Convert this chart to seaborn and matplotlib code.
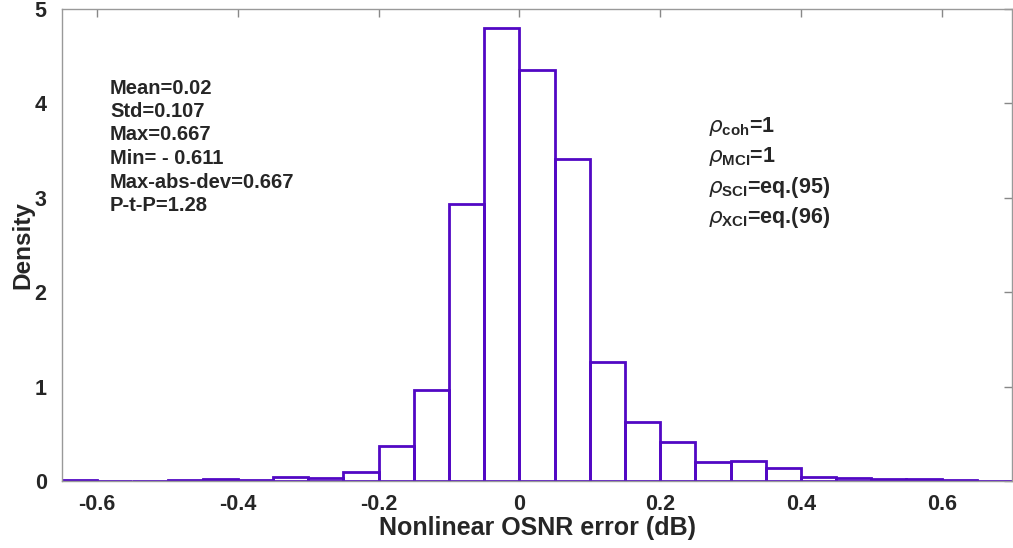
import matplotlib
matplotlib.use("Agg")
import matplotlib.pyplot as plt
import seaborn as sns
import pandas as pd

# bin edges (dB) and density per bin
BIN_LEFT = [-0.65, -0.60, -0.55, -0.50, -0.45, -0.40, -0.35, -0.30, -0.25,
            -0.20, -0.15, -0.10, -0.05, 0.00, 0.05, 0.10, 0.15, 0.20, 0.25,
            0.30, 0.35, 0.40, 0.45, 0.50, 0.55, 0.60, 0.65]
DENSITY = [0.01, 0.003, 0.003, 0.01, 0.02, 0.006, 0.045, 0.03, 0.10,
           0.37, 0.96, 2.93, 4.80, 4.35, 3.41, 1.26, 0.62, 0.41, 0.20,
           0.21, 0.14, 0.045, 0.03, 0.02, 0.02, 0.015, 0.005]
BIN_WIDTH = 0.05

STATS_LINES = ["Mean=0.02", "Std=0.107", "Max=0.667", "Min= - 0.611",
               "Max-abs-dev=0.667", "P-t-P=1.28"]
RHO_LINES = [r"$\rho_{\mathbf{coh}}$=1", r"$\rho_{\mathbf{MCI}}$=1",
             r"$\rho_{\mathbf{SCI}}$=eq.(95)", r"$\rho_{\mathbf{XCI}}$=eq.(96)"]

LINE_COLOR = "#5208c4"


def main() -> None:
    sns.set_theme(style="white")
    plt.rcParams["font.family"] = ["Liberation Sans", "DejaVu Sans"]
    plt.rcParams["font.weight"] = "bold"
    plt.rcParams["mathtext.fontset"] = "custom"
    plt.rcParams["mathtext.rm"] = "Liberation Sans"
    plt.rcParams["mathtext.it"] = "DejaVu Sans:italic:normal"
    plt.rcParams["mathtext.bf"] = "Liberation Sans:bold"

    df = pd.DataFrame({"x": [b + BIN_WIDTH / 2 for b in BIN_LEFT], "w": DENSITY})
    edges = BIN_LEFT + [BIN_LEFT[-1] + BIN_WIDTH]

    fig = plt.figure(figsize=(10.13, 5.48), dpi=100)
    ax = fig.add_axes([62 / 1013, 67 / 548, 950 / 1013, 472 / 548])
    sns.histplot(data=df, x="x", weights="w", bins=edges, stat="count",
                 fill=False, color=LINE_COLOR, linewidth=2.0, ax=ax)

    ax.set_xlim(-0.65, 0.7)
    ax.set_ylim(0, 5)
    ax.set_xticks([-0.6, -0.4, -0.2, 0, 0.2, 0.4, 0.6])
    ax.set_xticklabels(["-0.6", "-0.4", "-0.2", "0", "0.2", "0.4", "0.6"])
    ax.set_yticks([0, 1, 2, 3, 4, 5])
    ax.tick_params(axis="both", direction="in", length=6, width=1,
                   color="#888888", labelsize=15.5, top=True, right=True)
    ax.tick_params(axis="x", pad=9)
    ax.tick_params(axis="y", pad=11)
    for lbl in ax.get_xticklabels() + ax.get_yticklabels():
        lbl.set_fontweight("bold")
    for sp in ax.spines.values():
        sp.set_color("#999999")
        sp.set_linewidth(1)
    ax.set_xlabel("Nonlinear OSNR error (dB)", fontsize=18, fontweight="bold", labelpad=1)
    ax.set_ylabel("Density", fontsize=17.5, fontweight="bold", labelpad=0)

    for i, line in enumerate(STATS_LINES):
        ax.text(110, 548 - (88 + i * 23.5), line, transform=None, fontsize=14.5,
                fontweight="bold", va="center", ha="left")
    for i, line in enumerate(RHO_LINES):
        ax.text(708, 548 - (126 + i * 30.5), line, transform=None, fontsize=15.5,
                fontweight="bold", va="center", ha="left")

    fig.savefig("out.png", dpi=100)
    plt.close(fig)


if __name__ == "__main__":
    main()
